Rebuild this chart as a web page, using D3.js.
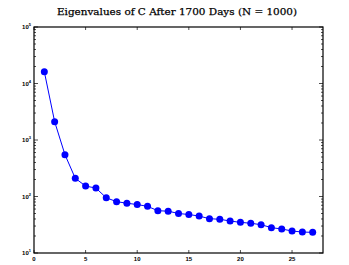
<!DOCTYPE html>
<html><head><meta charset="utf-8">
<script src="https://cdn.jsdelivr.net/npm/d3@7"></script>
<style>body{margin:0;background:#fff}svg{display:block}</style>
</head><body>
<svg id="c" width="349" height="265"></svg>
<script>
const index = d3.range(1, 28);
const eigenvalues = [16180, 2110, 550, 210, 153, 141, 95, 81, 76, 72, 67, 56, 55, 50, 48, 45, 40.5, 39.5, 36.8, 34.9, 33.6, 31.7, 28.1, 26.6, 24.5, 23.5, 23.2];
const xTicks = [0, 5, 10, 15, 20, 25];
const yTicks = [10, 100, 1000, 10000, 100000];
const title = "Eigenvalues of C After 1700 Days (N = 1000)";

const svg = d3.select("#c");
const m = {l: 34, r: 323, t: 27, b: 253};
const x = d3.scaleLinear().domain([0, 28]).range([m.l, m.r]);
const y = d3.scaleLog().domain([10, 100000]).range([m.b, m.t]);

svg.append("text").attr("x", 177).attr("y", 15).attr("text-anchor", "middle")
  .attr("font-family", "DejaVu Serif, serif").attr("font-size", 10)
  .attr("textLength", 240).attr("lengthAdjust", "spacingAndGlyphs")
  .attr("stroke", "#000").attr("stroke-width", 0.25).text(title);

// minor log ticks
const minors = [];
for (let d = 10; d < 100000; d *= 10) for (let k = 2; k <= 9; k++) minors.push(d * k);
const g = svg.append("g").attr("stroke", "#000").attr("stroke-width", 0.7);
minors.forEach(v => {
  g.append("line").attr("x1", m.l).attr("x2", m.l + 2).attr("y1", y(v)).attr("y2", y(v));
  g.append("line").attr("x1", m.r).attr("x2", m.r - 2).attr("y1", y(v)).attr("y2", y(v));
});
yTicks.forEach(v => {
  g.append("line").attr("x1", m.l).attr("x2", m.l + 4).attr("y1", y(v)).attr("y2", y(v));
  g.append("line").attr("x1", m.r).attr("x2", m.r - 4).attr("y1", y(v)).attr("y2", y(v));
});
xTicks.forEach(v => {
  g.append("line").attr("x1", x(v)).attr("x2", x(v)).attr("y1", m.b).attr("y2", m.b - 3);
  g.append("line").attr("x1", x(v)).attr("x2", x(v)).attr("y1", m.t).attr("y2", m.t + 3);
});
svg.append("rect").attr("x", m.l).attr("y", m.t).attr("width", m.r - m.l).attr("height", m.b - m.t)
  .attr("fill", "none").attr("stroke", "#000").attr("stroke-width", 1.2);

const lf = "Liberation Sans, Arial, sans-serif";
xTicks.forEach(v => {
  svg.append("text").attr("x", x(v)).attr("y", m.b + 8).attr("text-anchor", "middle")
    .attr("font-family", lf).attr("font-size", 6).attr("font-weight", "bold").text(v);
});
yTicks.forEach(v => {
  const t = svg.append("text").attr("x", m.l - 3).attr("y", y(v) + 2).attr("text-anchor", "end")
    .attr("font-family", lf).attr("font-size", 6).attr("font-weight", "bold");
  t.append("tspan").text("10");
  t.append("tspan").attr("font-size", 4).attr("dy", -3).text(Math.round(Math.log10(v)));
});

const line = d3.line().x((d, i) => x(index[i])).y(d => y(d));
svg.append("path").datum(eigenvalues).attr("d", line).attr("fill", "none")
  .attr("stroke", "#0000ff").attr("stroke-width", 1);
svg.selectAll("circle.pt").data(eigenvalues).join("circle").attr("class", "pt")
  .attr("cx", (d, i) => x(index[i])).attr("cy", d => y(d)).attr("r", 3.5).attr("fill", "#0000ff");
</script>
</body></html>
